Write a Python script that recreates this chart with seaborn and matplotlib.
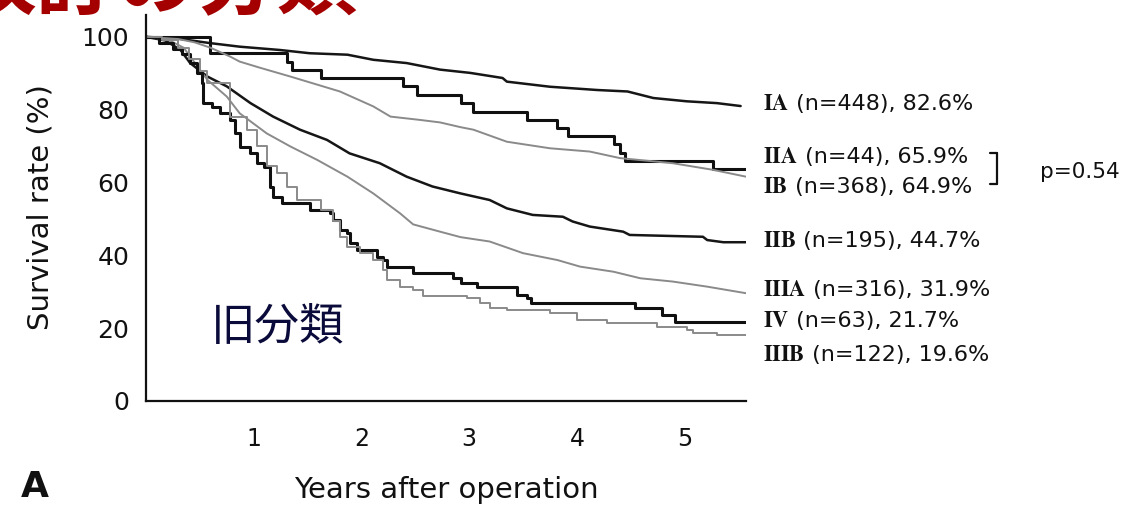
import numpy as np
import pandas as pd
import matplotlib
matplotlib.use("Agg")
import matplotlib.pyplot as plt
import seaborn as sns

# ---- data (years after operation, survival %) ----
stages = ["IA", "IIA", "IB", "IIB", "IIIA", "IV", "IIIB"]
label_rest = [" (n=448), 82.6%", " (n=44), 65.9%", " (n=368), 64.9%",
              " (n=195), 44.7%", " (n=316), 31.9%", " (n=63), 21.7%",
              " (n=122), 19.6%"]

t_IA = [0, 0.3, 0.59, 0.87, 1.24, 1.52, 1.87, 2.11, 2.42, 2.73, 3.01, 3.31, 3.35, 3.75, 4.19, 4.47, 4.71, 5.02, 5.3, 5.52]
s_IA = [100, 99.5, 98.3, 97.3, 96.4, 95.5, 95.1, 93.7, 92.8, 91.0, 90.1, 88.7, 87.7, 86.3, 85.4, 85.0, 83.2, 82.3, 81.8, 81.0]

t_IIA = [0, 0.59, 1.31, 1.36, 1.62, 2.39, 2.52, 2.92, 3.04, 3.54, 3.82, 3.92, 4.34, 4.40, 4.45, 5.26, 5.57]
s_IIA = [100, 95.5, 93.2, 90.9, 88.6, 86.4, 84.1, 81.8, 79.5, 77.3, 75.0, 72.7, 70.5, 68.2, 65.9, 63.6, 63.6]

t_IB = [0, 0.3, 0.45, 0.6, 0.78, 0.87, 1.06, 1.34, 1.8, 2.11, 2.27, 2.54, 2.73, 2.92, 3.04, 3.35, 3.75, 4.12, 4.4, 4.89, 5.26, 5.57]
s_IB = [100, 99.4, 98.5, 97.0, 94.6, 93.2, 91.5, 89.1, 85.0, 80.9, 78.1, 77.2, 76.5, 75.2, 74.5, 71.2, 69.4, 68.5, 66.7, 65.3, 63.5, 61.6]

t_IIB = [0, 0.18, 0.32, 0.41, 0.57, 0.75, 0.97, 1.18, 1.43, 1.68, 1.89, 2.17, 2.42, 2.66, 2.92, 3.19, 3.35, 3.59, 3.87, 3.96, 4.12, 4.43, 4.49, 5.17, 5.21, 5.36, 5.57]
s_IIB = [100, 99.0, 96.4, 92.8, 89.1, 86.4, 81.8, 78.1, 74.5, 71.7, 68.0, 65.3, 61.6, 58.9, 57.0, 55.2, 52.9, 51.1, 50.6, 49.3, 47.9, 46.5, 45.6, 45.1, 44.2, 43.6, 43.6]

t_IIIA = [0, 0.2, 0.35, 0.45, 0.57, 0.75, 0.87, 1.12, 1.34, 1.59, 1.87, 2.11, 2.36, 2.48, 2.73, 2.92, 3.19, 3.5, 3.82, 4.03, 4.34, 4.59, 4.89, 5.21, 5.57]
s_IIIA = [100, 99.3, 97.0, 93.0, 88.2, 83.6, 79.0, 73.5, 69.9, 66.2, 61.6, 57.0, 51.5, 48.5, 46.5, 45.0, 43.8, 40.6, 38.7, 36.9, 35.5, 33.7, 32.8, 31.4, 29.6]

t_IV = [0, 0.12, 0.25, 0.33, 0.41, 0.47, 0.52, 0.53, 0.61, 0.69, 0.78, 0.83, 0.87, 0.97, 1.03, 1.10, 1.15, 1.18, 1.26, 1.52, 1.71, 1.74, 1.80, 1.87, 1.89, 1.96, 2.14, 2.20, 2.24, 2.48, 2.85, 2.92, 3.07, 3.44, 3.54, 3.57, 4.54, 4.79, 4.91, 5.57]
s_IV = [100, 98.4, 96.8, 95.2, 92.9, 90.1, 87.4, 81.9, 80.8, 79.1, 77.2, 73.6, 69.8, 68.1, 65.4, 64.3, 58.8, 56.0, 54.4, 52.5, 51.6, 49.7, 47.0, 46.1, 43.4, 41.5, 39.6, 38.7, 36.9, 35.1, 33.7, 32.3, 31.4, 29.1, 28.2, 26.8, 25.5, 23.6, 21.8, 21.8]

t_IIIB = [0, 0.15, 0.3, 0.4, 0.5, 0.57, 0.78, 0.94, 1.03, 1.12, 1.22, 1.31, 1.40, 1.62, 1.74, 1.80, 1.87, 1.99, 2.11, 2.2, 2.24, 2.36, 2.48, 2.57, 2.98, 3.1, 3.19, 3.35, 3.75, 4.0, 4.28, 4.74, 5.02, 5.08, 5.3, 5.57]
s_IIIB = [100, 99.0, 97.0, 94.0, 90.5, 87.3, 78.1, 74.5, 69.9, 64.4, 62.6, 58.9, 55.2, 52.5, 49.3, 45.1, 42.4, 40.6, 38.7, 36.0, 33.2, 31.4, 30.5, 28.7, 28.2, 26.8, 25.5, 25.0, 24.1, 22.3, 21.4, 20.4, 19.5, 18.6, 18.1, 18.1]

series_t = [t_IA, t_IIA, t_IB, t_IIB, t_IIIA, t_IV, t_IIIB]
series_s = [s_IA, s_IIA, s_IB, s_IIB, s_IIIA, s_IV, s_IIIB]
label_y = [104, 157, 187, 241, 290, 321, 355]  # pixel rows of the end labels

rows = []
for st, tt, ss in zip(stages, series_t, series_s):
    for a, b in zip(tt, ss):
        rows.append((st, a, b))
df = pd.DataFrame(rows, columns=["stage", "t", "s"])

# large-n curves have tiny steps (drawn as a fine line); small-n curves show clear steps
styles = {
    "IA":   dict(color="#161616", lw=1.8, ds="default"),
    "IIA":  dict(color="#101010", lw=2.2, ds="steps-post"),
    "IB":   dict(color="#8a8a8a", lw=1.4, ds="default"),
    "IIB":  dict(color="#161616", lw=1.8, ds="default"),
    "IIIA": dict(color="#8a8a8a", lw=1.4, ds="default"),
    "IV":   dict(color="#101010", lw=2.2, ds="steps-post"),
    "IIIB": dict(color="#8a8a8a", lw=1.4, ds="steps-post"),
}

sns.set_theme(style="white")
plt.rcParams["font.family"] = ["DejaVu Sans"]
plt.rcParams["mathtext.fontset"] = "stix"

W, H = 1124, 507
fig = plt.figure(figsize=(W / 100, H / 100), dpi=100)
fig.patch.set_facecolor("white")

def fx(px):
    return px / W

def fy(py):
    return 1 - py / H

ax = fig.add_axes([fx(146), fy(401), (746 - 146) / W, (401 - 15) / H])
ax.set_facecolor("white")

for st in stages:
    sub = df[df["stage"] == st]
    sns.lineplot(data=sub, x="t", y="s", ax=ax, estimator=None, sort=False,
                 drawstyle=styles[st]["ds"], color=styles[st]["color"],
                 linewidth=styles[st]["lw"], legend=False)

ax.set_xlim(0, 5.57)
ax.set_ylim(0, 106)
ax.set_xticks([0, 1, 2, 3, 4, 5])
ax.set_xticklabels(["", "1", "2", "3", "4", "5"])
ax.set_yticks([0, 20, 40, 60, 80, 100])
ax.set_xlabel("")
ax.set_ylabel("")
for sp in ["top", "right"]:
    ax.spines[sp].set_visible(False)
for sp in ["left", "bottom"]:
    ax.spines[sp].set_color("#111111")
    ax.spines[sp].set_linewidth(1.6)
ax.tick_params(axis="y", direction="out", length=7, width=1.5, color="#111111",
               labelsize=18, pad=5, labelcolor="#111111")
ax.tick_params(axis="x", direction="out", length=6, width=1.5, color="#111111",
               labelsize=17, pad=13, labelcolor="#111111")

# end labels: Roman-numeral stage in a serif face, rest in sans
stage_tex = [r"$\mathbf{IA}$", r"$\mathbf{IIA}$", r"$\mathbf{IB}$", r"$\mathbf{IIB}$",
             r"$\mathbf{IIIA}$", r"$\mathbf{IV}$", r"$\mathbf{IIIB}$"]
fig.canvas.draw()
renderer = fig.canvas.get_renderer()
for tex, rest, py in zip(stage_tex, label_rest, label_y):
    t1 = fig.text(fx(763), fy(py), tex, fontsize=16, va="center", ha="left",
                  color="#111111")
    bb = t1.get_window_extent(renderer=renderer)
    fig.text(bb.x1 / W, fy(py), rest, fontsize=16, va="center", ha="left",
             color="#111111")

# bracket and p value
bx = 997
fig.add_artist(plt.Line2D([fx(bx), fx(bx)], [fy(153), fy(184)], color="#111111", lw=1.6))
fig.add_artist(plt.Line2D([fx(bx - 7), fx(bx)], [fy(153), fy(153)], color="#111111", lw=1.6))
fig.add_artist(plt.Line2D([fx(bx - 7), fx(bx)], [fy(184), fy(184)], color="#111111", lw=1.6))
fig.text(fx(1040), fy(172), "p=0.54", fontsize=15.5, va="center", ha="left", color="#111111")

# axis titles
fig.text(fx(40), fy(207), "Survival rate (%)", rotation=90, fontsize=21,
         va="center", ha="center", color="#111111")
fig.text(fx(446), fy(490), "Years after operation", fontsize=21,
         va="center", ha="center", color="#111111")
fig.text(fx(35), fy(487), "A", fontsize=26, fontweight="bold",
         va="center", ha="center", color="#111111")

# in-plot annotation
fig.text(fx(278), fy(327), "旧分類", fontsize=32, va="center", ha="center",
         color="#0b0b3b", family=["Noto Sans CJK JP", "DejaVu Sans"])

# clipped red slide title at the top (only its lower edge is visible)
fig.text(fx(-45), fy(25), "改訂の分類", fontsize=58, va="bottom", ha="left",
         color="#a50000", fontweight="bold",
         family=["Noto Sans CJK JP", "DejaVu Sans"])

fig.savefig("out.png", dpi=100, facecolor="white")
